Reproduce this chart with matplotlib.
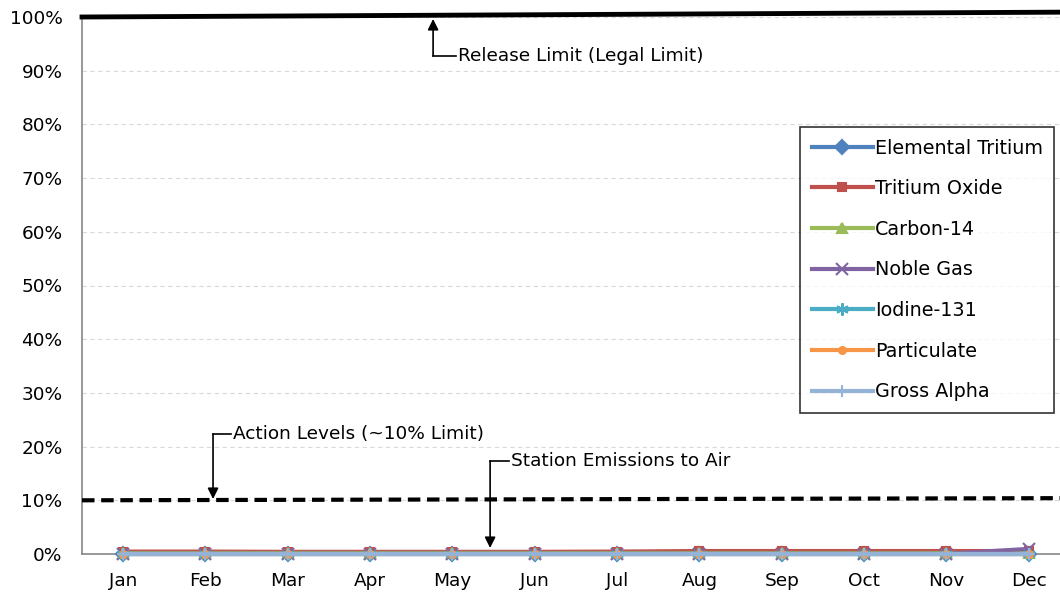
import matplotlib
matplotlib.use("Agg")
import matplotlib.pyplot as plt
from matplotlib.ticker import FuncFormatter

months = ["Jan", "Feb", "Mar", "Apr", "May", "Jun", "Jul", "Aug", "Sep", "Oct", "Nov", "Dec"]
elemental_tritium = [0.05, 0.05, 0.05, 0.05, 0.05, 0.05, 0.05, 0.05, 0.05, 0.05, 0.05, 0.05]
tritium_oxide = [0.45, 0.45, 0.4, 0.4, 0.4, 0.4, 0.45, 0.55, 0.55, 0.55, 0.55, 0.55]
carbon_14 = [0.1, 0.1, 0.1, 0.1, 0.1, 0.1, 0.1, 0.1, 0.1, 0.1, 0.1, 0.1]
noble_gas = [0.05, 0.05, 0.05, 0.05, 0.05, 0.05, 0.05, 0.05, 0.05, 0.05, 0.05, 0.95]
iodine_131 = [0.0, 0.0, 0.0, 0.0, 0.0, 0.0, 0.0, 0.0, 0.0, 0.0, 0.0, 0.0]
particulate = [0.0, 0.0, 0.0, 0.0, 0.0, 0.0, 0.0, 0.0, 0.0, 0.0, 0.0, 0.0]
gross_alpha = [0.0, 0.0, 0.0, 0.0, 0.0, 0.0, 0.0, 0.0, 0.0, 0.0, 0.0, 0.0]
release_limit = [100.0, 100.9]
action_level = [10.0, 10.4]
yticks = [0, 10, 20, 30, 40, 50, 60, 70, 80, 90, 100]

plt.rcParams['font.family'] = ['DejaVu Sans']
FS = 13.3

fig = plt.figure(figsize=(10.6, 5.94), dpi=100)
ax = fig.add_axes([82/1060, 40/594, (1060-82)/1060, (554-17)/594])

x = list(range(len(months)))
series = [
    ("Elemental Tritium", elemental_tritium, "#4F81BD", "D", 7),
    ("Tritium Oxide", tritium_oxide, "#C0504D", "s", 6),
    ("Carbon-14", carbon_14, "#9BBB59", "^", 7),
    ("Noble Gas", noble_gas, "#8064A2", "x", 8),
    ("Iodine-131", iodine_131, "#4BACC6", (6, 2, 0), 9),
    ("Particulate", particulate, "#F79646", "o", 5),
    ("Gross Alpha", gross_alpha, "#95B3D7", "+", 9),
]
for name, vals, col, mk, ms in series:
    ax.plot(x, vals, color=col, lw=3, marker=mk, markersize=ms,
            markeredgecolor=col, markerfacecolor=col, markeredgewidth=1.5,
            label=name, clip_on=False, zorder=3)

xr = [-0.5, 11.38]
ax.plot(xr, release_limit, color="black", lw=3.5, clip_on=False, zorder=4)
ax.plot(xr, action_level, color="black", lw=3, ls=(0, (3, 1.6)), clip_on=False, zorder=4)

ax.set_xlim(-0.5, 11.38)
ax.set_ylim(0, 100)
ax.set_xticks(x)
ax.set_xticklabels(months, fontsize=FS)
ax.set_yticks(yticks)
ax.yaxis.set_major_formatter(FuncFormatter(lambda v, p: f"{int(v)}%"))
ax.tick_params(axis='y', labelsize=FS, length=0, pad=14)
ax.tick_params(axis='x', length=0, pad=13)
ax.grid(axis='y', color="#D9D9D9", ls=(0, (4, 3)), lw=0.8)
ax.set_axisbelow(True)
for s in ["top", "right"]:
    ax.spines[s].set_visible(False)
ax.spines["left"].set_color("#868686")
ax.spines["bottom"].set_color("#868686")
ax.spines["left"].set_linewidth(1.2)
ax.spines["bottom"].set_linewidth(1.2)

def elbow(xt, yt, xc, ytip, text):
    ax.plot([xt, xc], [yt, yt], color="black", lw=1.2, zorder=5)
    ax.annotate("", xy=(xc, ytip), xytext=(xc, yt),
                arrowprops=dict(arrowstyle="-|>", color="black", lw=1.2,
                                mutation_scale=16, shrinkA=0, shrinkB=0), zorder=5)
    ax.text(xt + 0.02, yt, text, fontsize=FS, va="center", ha="left", zorder=5)

def px2x(px):
    return (px - 82) / 82.3 - 0.5

def py2y(py):
    return (554 - py) / 5.37

elbow(px2x(456), py2y(56), px2x(433), py2y(19), "Release Limit (Legal Limit)")
elbow(px2x(231), py2y(434), px2x(213), py2y(499), "Action Levels (~10% Limit)")
elbow(px2x(509), py2y(461), px2x(490), py2y(548), "Station Emissions to Air")

leg = ax.legend(loc="upper left", bbox_to_anchor=((800-82)/978, (554-127)/537),
                fontsize=13.8, frameon=True, fancybox=False, edgecolor="black",
                handlelength=3.2, labelspacing=1.13, borderpad=0.6,
                handletextpad=0.1, borderaxespad=0)
leg.get_frame().set_linewidth(1.2)

fig.savefig("out.png", dpi=100)
